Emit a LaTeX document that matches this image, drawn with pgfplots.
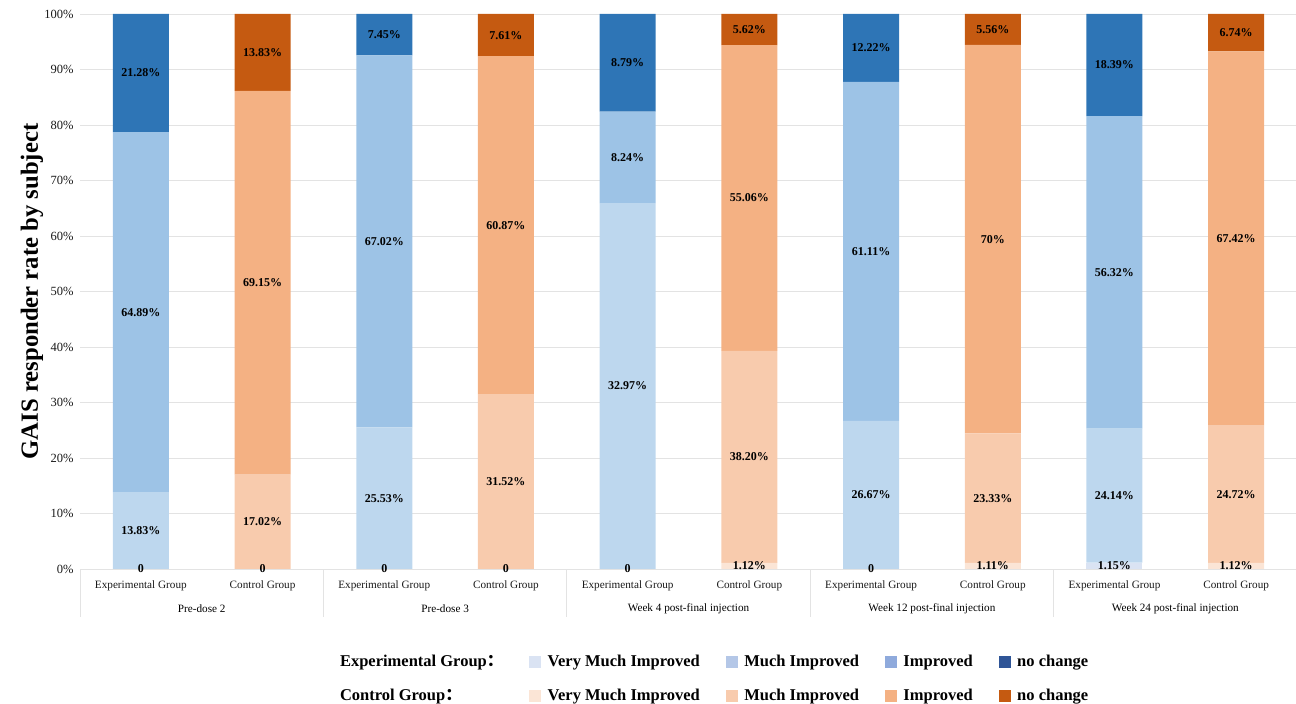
\documentclass[border=0pt]{standalone}
\usepackage{fontspec}
\setmainfont{Liberation Serif}
\newfontfamily\cjk{Noto Sans CJK SC}
\usepackage{pgfplots}
\usepackage{pgfplotstable}
\pgfplotsset{compat=1.18}
\definecolor{eV}{HTML}{DAE3F3}
\definecolor{eM}{HTML}{BDD7EE}
\definecolor{eI}{HTML}{9DC3E6}
\definecolor{eN}{HTML}{2E75B6}
\definecolor{cV}{HTML}{FBE5D6}
\definecolor{cM}{HTML}{F8CBAD}
\definecolor{cI}{HTML}{F4B183}
\definecolor{cN}{HTML}{C55A11}
\definecolor{leV}{HTML}{DAE3F3}
\definecolor{leM}{HTML}{B4C7E7}
\definecolor{leI}{HTML}{8FAADC}
\definecolor{leN}{HTML}{2F5597}
\definecolor{gridc}{HTML}{E3E3E3}

\pgfplotstableread{
x eV eM eI eN cV cM cI cN
0 0 13.83 64.89 21.28 0 0 0 0
1 0 0 0 0 0 17.02 69.15 13.83
2 0 25.53 67.02 7.45 0 0 0 0
3 0 0 0 0 0 31.52 60.87 7.61
4 0 65.94 16.48 17.58 0 0 0 0
5 0 0 0 0 1.12 38.20 55.06 5.62
6 0 26.67 61.11 12.22 0 0 0 0
7 0 0 0 0 1.11 23.33 70 5.56
8 1.15 24.14 56.32 18.39 0 0 0 0
9 0 0 0 0 1.12 24.72 67.42 6.74
}\datatable

\pgfplotstableread{
x y label
0 0 0
0 6.915 13.83\%
0 46.275 64.89\%
0 89.36 21.28\%
1 0 0
1 8.51 17.02\%
1 51.595 69.15\%
1 93.085 13.83\%
2 0 0
2 12.765 25.53\%
2 59.04 67.02\%
2 96.275 7.45\%
3 0 0
3 15.76 31.52\%
3 61.955 60.87\%
3 96.195 7.61\%
4 0 0
4 32.97 32.97\%
4 74.18 8.24\%
4 91.21 8.79\%
5 0.56 1.12\%
5 20.22 38.20\%
5 66.85 55.06\%
5 97.19 5.62\%
6 0 0
6 13.335 26.67\%
6 57.225 61.11\%
6 93.89 12.22\%
7 0.555 1.11\%
7 12.775 23.33\%
7 59.44 70\%
7 97.22 5.56\%
8 0.575 1.15\%
8 13.22 24.14\%
8 53.45 56.32\%
8 90.805 18.39\%
9 0.56 1.12\%
9 13.48 24.72\%
9 59.55 67.42\%
9 96.63 6.74\%
}\labeltable

\begin{document}
\begin{tikzpicture}[x=1pt,y=1pt]
\path[use as bounding box] (0,0) rectangle (1296,704);
\begin{axis}[
  at={(80pt,135pt)}, anchor=south west,
  width=1217pt, height=555pt, scale only axis,
  ybar stacked, bar width=56pt,
  xmin=-0.5, xmax=9.5, ymin=0, ymax=100,
  ytick={0,10,...,100},
  yticklabel={\pgfmathprintnumber{\tick}\%},
  /pgf/number format/assume math mode=true,
  ymajorgrids, grid style={gridc, line width=0.8pt},
  axis line style={draw=none}, tick style={draw=none},
  xtick={0,...,9},
  xticklabels={Experimental Group,Control Group,Experimental Group,Control Group,Experimental Group,Control Group,Experimental Group,Control Group,Experimental Group,Control Group},
  tick label style={font=\fontsize{11.2}{13}\selectfont, text=black!90},
  yticklabel style={font=\fontsize{12.5}{14}\selectfont, xshift=-3pt},
  xticklabel style={yshift=-8pt},
  clip=false,
  ylabel={GAIS responder rate by subject},
  every axis y label/.style={at={(axis description cs:-0.0395,0.5)}, rotate=90, anchor=center, font=\fontsize{24.7}{28}\bfseries\selectfont},
]
\addplot[fill=eV, draw=none] table[x=x,y=eV] {\datatable};
\addplot[fill=eM, draw=none] table[x=x,y=eM] {\datatable};
\addplot[fill=eI, draw=none] table[x=x,y=eI] {\datatable};
\addplot[fill=eN, draw=none] table[x=x,y=eN] {\datatable};
\addplot[fill=cV, draw=none] table[x=x,y=cV] {\datatable};
\addplot[fill=cM, draw=none] table[x=x,y=cM] {\datatable};
\addplot[fill=cI, draw=none] table[x=x,y=cI] {\datatable};
\addplot[fill=cN, draw=none] table[x=x,y=cN] {\datatable};
\draw[gridc, line width=0.8pt] (axis cs:-0.5,0) -- ([yshift=-48pt]axis cs:-0.5,0);
\draw[gridc, line width=0.8pt] (axis cs:1.5,0) -- ([yshift=-48pt]axis cs:1.5,0);
\draw[gridc, line width=0.8pt] (axis cs:3.5,0) -- ([yshift=-48pt]axis cs:3.5,0);
\draw[gridc, line width=0.8pt] (axis cs:5.5,0) -- ([yshift=-48pt]axis cs:5.5,0);
\draw[gridc, line width=0.8pt] (axis cs:7.5,0) -- ([yshift=-48pt]axis cs:7.5,0);
\node[font=\fontsize{11.2}{13}\selectfont] at ([yshift=-40pt]axis cs:0.5,0) {Pre-dose 2};
\node[font=\fontsize{11.2}{13}\selectfont] at ([yshift=-40pt]axis cs:2.5,0) {Pre-dose 3};
\node[font=\fontsize{11.2}{13}\selectfont] at ([yshift=-40pt]axis cs:4.5,0) {Week 4 post-final injection};
\node[font=\fontsize{11.2}{13}\selectfont] at ([yshift=-40pt]axis cs:6.5,0) {Week 12 post-final injection};
\node[font=\fontsize{11.2}{13}\selectfont] at ([yshift=-40pt]axis cs:8.5,0) {Week 24 post-final injection};
\end{axis}
\begin{axis}[
  at={(80pt,135pt)}, anchor=south west,
  width=1217pt, height=555pt, scale only axis,
  xmin=-0.5, xmax=9.5, ymin=0, ymax=100,
  hide axis, clip=false,
  legend columns=5,
  legend cell align=left,
  legend style={at={(0.519,-0.197)}, anchor=center, draw=none, fill=none,
    font=\fontsize{16.5}{19}\bfseries\selectfont, row sep=17pt,
    /tikz/every odd column/.append style={column sep=5pt},
    /tikz/every even column/.append style={column sep=24pt}},
]
\addplot[forget plot, draw=none, mark=none, nodes near coords, point meta=explicit symbolic,
  every node near coord/.append style={anchor=center, font=\fontsize{12}{14}\bfseries\selectfont, text=black}]
  table[x=x, y=y, meta=label] {\labeltable};
\addlegendimage{legend image code/.code={}}\addlegendentry{Experimental Group{\cjk ：}}
\addlegendimage{legend image code/.code={\fill[leV] (0pt,-5.5pt) rectangle (11pt,5.5pt);}}\addlegendentry{Very Much Improved}
\addlegendimage{legend image code/.code={\fill[leM] (0pt,-5.5pt) rectangle (11pt,5.5pt);}}\addlegendentry{Much Improved}
\addlegendimage{legend image code/.code={\fill[leI] (0pt,-5.5pt) rectangle (11pt,5.5pt);}}\addlegendentry{Improved}
\addlegendimage{legend image code/.code={\fill[leN] (0pt,-5.5pt) rectangle (11pt,5.5pt);}}\addlegendentry{no change}
\addlegendimage{legend image code/.code={}}\addlegendentry{Control Group{\cjk ：}}
\addlegendimage{legend image code/.code={\fill[cV] (0pt,-5.5pt) rectangle (11pt,5.5pt);}}\addlegendentry{Very Much Improved}
\addlegendimage{legend image code/.code={\fill[cM] (0pt,-5.5pt) rectangle (11pt,5.5pt);}}\addlegendentry{Much Improved}
\addlegendimage{legend image code/.code={\fill[cI] (0pt,-5.5pt) rectangle (11pt,5.5pt);}}\addlegendentry{Improved}
\addlegendimage{legend image code/.code={\fill[cN] (0pt,-5.5pt) rectangle (11pt,5.5pt);}}\addlegendentry{no change}
\end{axis}
\end{tikzpicture}
\end{document}
